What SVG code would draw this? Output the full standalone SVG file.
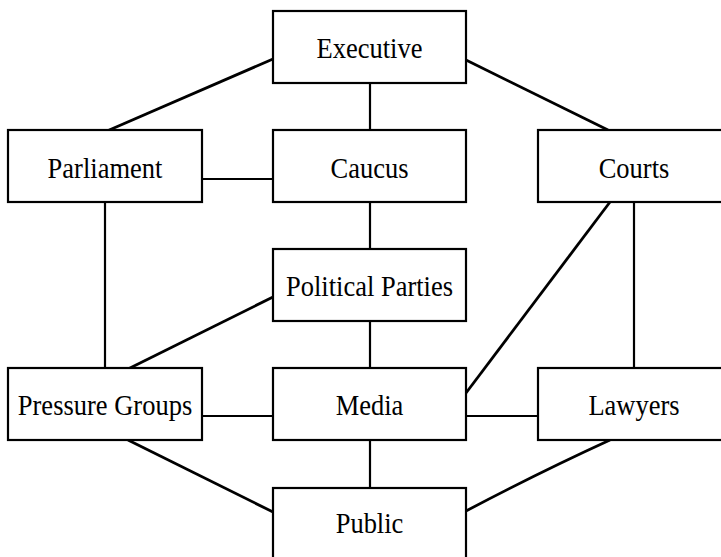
<svg xmlns="http://www.w3.org/2000/svg" width="721" height="557" viewBox="0 0 721 557">
<style>
.box{fill:#fff;stroke:#000;stroke-width:2.2}
.lbl{font-family:"Liberation Serif","Times New Roman",serif;font-size:26.5px;fill:#000;text-anchor:middle}
.c{stroke:#000;stroke-width:2.2;fill:none}
.d{stroke:#000;stroke-width:2.8;fill:none}
</style>
<rect width="721" height="557" fill="#fff"/>
<g id="connectors">
<line class="d" x1="273" y1="59" x2="107" y2="131"/>
<line class="d" x1="466" y1="60" x2="608" y2="130"/>
<line class="c" x1="370" y1="83" x2="370" y2="130"/>
<line class="c" x1="202" y1="179" x2="273" y2="179"/>
<line class="c" x1="370" y1="202" x2="370" y2="249"/>
<line class="c" x1="105" y1="202" x2="105" y2="368"/>
<line class="c" x1="634" y1="202" x2="634" y2="368"/>
<line class="d" x1="610" y1="202" x2="466" y2="393"/>
<line class="d" x1="273" y1="297" x2="128" y2="369"/>
<line class="c" x1="370" y1="321" x2="370" y2="368"/>
<line class="c" x1="202" y1="416" x2="273" y2="416"/>
<line class="c" x1="466" y1="416" x2="538" y2="416"/>
<line class="c" x1="370" y1="440" x2="370" y2="488"/>
<line class="d" x1="128" y1="440" x2="273" y2="512"/>
<path class="d" d="M610,440 Q540,472 466,511"/>
</g>
<g id="executive"><rect class="box" x="273" y="11" width="193" height="72"/><text class="lbl" transform="translate(369.5,58) scale(1,1.12)">Executive</text></g>
<g id="parliament"><rect class="box" x="8" y="130" width="194" height="72"/><text class="lbl" transform="translate(105,178) scale(1,1.12)">Parliament</text></g>
<g id="caucus"><rect class="box" x="273" y="130" width="193" height="72"/><text class="lbl" transform="translate(369.5,178) scale(1,1.12)">Caucus</text></g>
<g id="courts"><rect class="box" x="538" y="130" width="195" height="72"/><text class="lbl" transform="translate(634,178) scale(1,1.12)">Courts</text></g>
<g id="political-parties"><rect class="box" x="273" y="249" width="193" height="72"/><text class="lbl" transform="translate(369.5,296) scale(1,1.12)">Political Parties</text></g>
<g id="pressure-groups"><rect class="box" x="8" y="368" width="194" height="72"/><text class="lbl" transform="translate(105,415) scale(1,1.12)">Pressure Groups</text></g>
<g id="media"><rect class="box" x="273" y="368" width="193" height="72"/><text class="lbl" transform="translate(369.5,415) scale(1,1.12)">Media</text></g>
<g id="lawyers"><rect class="box" x="538" y="368" width="195" height="72"/><text class="lbl" transform="translate(634,415) scale(1,1.12)">Lawyers</text></g>
<g id="public"><rect class="box" x="273" y="488" width="193" height="74"/><text class="lbl" transform="translate(369.5,533) scale(1,1.12)">Public</text></g>
</svg>
